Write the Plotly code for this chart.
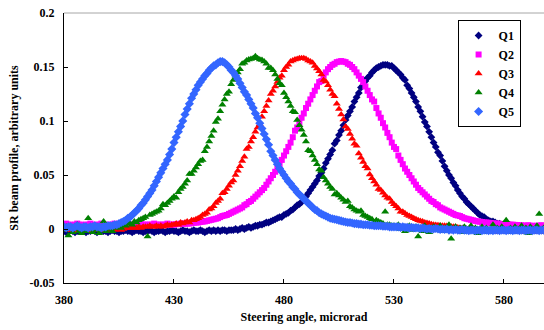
import plotly.graph_objects as go

# Steering angle samples (microrad)
angle = list(range(380, 599))

series_names = ["Q1", "Q2", "Q3", "Q4", "Q5"]

q1 = [
    -0.002, -0.003, -0.002, -0.001, -0.002, -0.003, -0.002, -0.002, -0.001, -0.002,
    -0.003, -0.002, -0.002, -0.001, -0.002, -0.003, -0.002, -0.001, -0.002, -0.002,
    -0.003, -0.002, -0.001, -0.002, -0.002, -0.003, -0.002, -0.002, -0.001, -0.002,
    -0.002, -0.003, -0.002, -0.001, -0.002, -0.002, -0.003, -0.002, -0.002, -0.001,
    -0.002, -0.003, -0.002, -0.002, -0.001, -0.002, -0.003, -0.002, -0.002, -0.001,
    -0.002, -0.002, -0.003, -0.002, -0.001, -0.002, -0.002, -0.003, -0.002, -0.001,
    -0.002, -0.002, -0.001, -0.002, -0.003, -0.002, -0.001, -0.002, -0.001, -0.002,
    -0.001, -0.002, -0.001, -0.001, -0.002, -0.001, -0.001, -0.001, 0.000, -0.001,
    0.000, 0.001, 0.000, 0.001, 0.002, 0.001, 0.002, 0.003, 0.003, 0.004,
    0.004, 0.005, 0.006, 0.006, 0.007, 0.008, 0.009, 0.010, 0.011, 0.011,
    0.013, 0.014, 0.015, 0.017, 0.018, 0.020, 0.022, 0.023, 0.025, 0.028,
    0.030, 0.033, 0.036, 0.039, 0.042, 0.045, 0.049, 0.052, 0.056, 0.061,
    0.065, 0.069, 0.073, 0.079, 0.082, 0.087, 0.091, 0.096, 0.101, 0.105,
    0.109, 0.113, 0.118, 0.122, 0.126, 0.131, 0.133, 0.137, 0.140, 0.142,
    0.145, 0.147, 0.149, 0.150, 0.151, 0.152, 0.152, 0.152, 0.151, 0.151,
    0.149, 0.147, 0.145, 0.143, 0.140, 0.138, 0.133, 0.130, 0.126, 0.122,
    0.118, 0.113, 0.109, 0.104, 0.099, 0.095, 0.090, 0.085, 0.080, 0.076,
    0.071, 0.068, 0.063, 0.058, 0.054, 0.050, 0.047, 0.043, 0.040, 0.036,
    0.033, 0.030, 0.028, 0.025, 0.023, 0.021, 0.019, 0.017, 0.015, 0.013,
    0.012, 0.011, 0.009, 0.008, 0.007, 0.007, 0.006, 0.005, 0.005, 0.004,
    0.004, 0.003, 0.003, 0.003, 0.002, 0.002, 0.002, 0.002, 0.001, 0.002,
    0.001, 0.001, 0.002, 0.001, 0.000, 0.001, 0.001, 0.000, 0.001,
]

q2 = [
    0.004, 0.005, 0.004, 0.004, 0.003, 0.004, 0.005, 0.004, 0.004, 0.003,
    0.004, 0.004, 0.005, 0.004, 0.003, 0.004, 0.004, 0.005, 0.004, 0.004,
    0.003, 0.004, 0.004, 0.005, 0.004, 0.004, 0.003, 0.004, 0.004, 0.005,
    0.004, 0.004, 0.004, 0.003, 0.004, 0.005, 0.004, 0.004, 0.004, 0.004,
    0.004, 0.005, 0.004, 0.004, 0.004, 0.004, 0.004, 0.005, 0.004, 0.004,
    0.004, 0.0045, 0.0045, 0.005, 0.0048, 0.005, 0.005, 0.005, 0.0055, 0.0058,
    0.006, 0.006, 0.0065, 0.0068, 0.007, 0.0075, 0.008, 0.0085, 0.009, 0.0095,
    0.010, 0.011, 0.012, 0.0125, 0.013, 0.014, 0.015, 0.016, 0.017, 0.018,
    0.019, 0.020, 0.022, 0.023, 0.025, 0.026, 0.028, 0.030, 0.032, 0.034,
    0.036, 0.038, 0.041, 0.044, 0.047, 0.050, 0.053, 0.056, 0.060, 0.064,
    0.068, 0.072, 0.076, 0.080, 0.085, 0.091, 0.094, 0.098, 0.103, 0.107,
    0.112, 0.116, 0.120, 0.124, 0.128, 0.132, 0.136, 0.137, 0.142, 0.145,
    0.148, 0.150, 0.152, 0.153, 0.1545, 0.155, 0.1555, 0.155, 0.1545, 0.153,
    0.152, 0.150, 0.148, 0.145, 0.142, 0.139, 0.136, 0.132, 0.128, 0.124,
    0.120, 0.118, 0.112, 0.107, 0.103, 0.098, 0.094, 0.089, 0.085, 0.080,
    0.076, 0.074, 0.068, 0.064, 0.060, 0.056, 0.053, 0.050, 0.047, 0.044,
    0.041, 0.038, 0.036, 0.034, 0.032, 0.030, 0.028, 0.026, 0.025, 0.023,
    0.022, 0.020, 0.019, 0.018, 0.017, 0.016, 0.015, 0.014, 0.013, 0.0125,
    0.012, 0.011, 0.010, 0.0095, 0.009, 0.0085, 0.008, 0.0075, 0.007, 0.0068,
    0.0065, 0.006, 0.006, 0.0058, 0.0055, 0.0052, 0.005, 0.005, 0.0048, 0.0046,
    0.0045, 0.0043, 0.0042, 0.004, 0.004, 0.0038, 0.0036, 0.0035, 0.0035, 0.003,
    0.003, 0.0035, 0.003, 0.003, 0.0025, 0.003, 0.003, 0.0035, 0.003,
]

q3 = [
    0.000, -0.001, 0.001, -0.001, 0.000, -0.002, 0.000, -0.001, 0.001, 0.000,
    -0.001, 0.000, -0.002, 0.000, -0.001, 0.001, -0.001, 0.000, -0.001, 0.000,
    0.001, -0.001, 0.000, -0.001, 0.000, 0.001, -0.001, 0.000, 0.001, 0.001,
    0.001, 0.002, 0.001, 0.001, 0.002, 0.001, 0.002, 0.002, 0.002, 0.003,
    0.002, 0.002, 0.003, 0.002, 0.003, 0.002, 0.003, 0.004, 0.003, 0.004,
    0.004, 0.005, 0.004, 0.006, 0.005, 0.006, 0.007, 0.006, 0.008, 0.008,
    0.009, 0.010, 0.011, 0.013, 0.014, 0.015, 0.018, 0.019, 0.021, 0.024,
    0.026, 0.028, 0.033, 0.034, 0.037, 0.040, 0.043, 0.045, 0.050, 0.054,
    0.058, 0.063, 0.067, 0.074, 0.076, 0.081, 0.085, 0.090, 0.094, 0.097,
    0.104, 0.109, 0.114, 0.119, 0.125, 0.128, 0.132, 0.136, 0.140, 0.142,
    0.147, 0.150, 0.152, 0.155, 0.156, 0.157, 0.1575, 0.158, 0.158, 0.158,
    0.1575, 0.156, 0.155, 0.154, 0.151, 0.1485, 0.146, 0.143, 0.138, 0.1365,
    0.133, 0.129, 0.125, 0.123, 0.116, 0.111, 0.106, 0.1015, 0.095, 0.0925,
    0.088, 0.0835, 0.079, 0.077, 0.070, 0.066, 0.062, 0.058, 0.056, 0.0505,
    0.047, 0.044, 0.041, 0.037, 0.036, 0.0335, 0.031, 0.029, 0.028, 0.025,
    0.023, 0.021, 0.019, 0.016, 0.016, 0.0145, 0.013, 0.012, 0.011, 0.010,
    0.009, 0.008, 0.0075, 0.007, 0.006, 0.0055, 0.005, 0.0045, 0.004, 0.0038,
    0.0035, 0.0033, 0.003, 0.003, 0.0028, 0.0025, 0.0022, 0.002, 0.002, 0.0015,
    0.001, 0.001, 0.0005, 0.000, 0.000, -0.001, 0.000, -0.001, -0.001, 0.000,
    -0.001, -0.002, -0.001, -0.002, -0.001, -0.002, -0.003, -0.002, -0.001, -0.002,
    -0.002, -0.003, -0.002, -0.001, -0.002, -0.003, -0.002, -0.002, -0.003, -0.001,
    -0.002, -0.003, -0.002, -0.002, -0.003, -0.002, -0.001, -0.002, -0.003,
]

q4 = [
    -0.001, 0.002, -0.006, 0.001, -0.003, 0.000, 0.004, -0.002, -0.004, 0.001,
    -0.002, 0.010, 0.000, -0.003, 0.002, -0.001, -0.004, 0.001, 0.007, -0.002,
    0.000, 0.001, -0.002, 0.001, 0.003, 0.002, 0.001, 0.004, 0.003, 0.005,
    0.005, 0.004, 0.007, 0.006, 0.008, 0.009, 0.010, 0.011, -0.007, 0.013,
    0.014, 0.015, 0.016, 0.017, 0.019, 0.023, 0.022, 0.024, 0.026, 0.028,
    0.030, 0.029, 0.034, 0.037, 0.039, 0.042, 0.045, 0.051, 0.051, 0.054,
    0.057, 0.060, 0.063, 0.064, 0.072, 0.076, 0.081, 0.086, 0.091, 0.099,
    0.102, 0.109, 0.115, 0.120, 0.125, 0.127, 0.134, 0.138, 0.142, 0.145,
    0.148, 0.153, 0.154, 0.156, 0.157, 0.1575, 0.158, 0.160, 0.158, 0.157,
    0.1565, 0.155, 0.153, 0.149, 0.149, 0.147, 0.143, 0.139, 0.135, 0.133,
    0.126, 0.122, 0.118, 0.114, 0.109, 0.108, 0.101, 0.096, 0.092, 0.087,
    0.081, 0.073, 0.072, 0.068, 0.064, 0.060, 0.055, 0.054, 0.048, 0.045,
    0.042, 0.039, 0.037, 0.032, 0.033, 0.031, 0.029, 0.027, 0.025, 0.026,
    0.021, 0.020, 0.018, 0.017, 0.016, 0.017, 0.013, 0.012, 0.011, 0.010,
    0.009, 0.006, 0.008, 0.007, 0.006, 0.005, 0.016, 0.004, 0.004, 0.003,
    0.003, 0.001, 0.004, 0.000, 0.002, -0.002, 0.001, 0.003, -0.001, 0.000,
    0.002, -0.007, 0.001, -0.002, 0.003, 0.000, -0.003, 0.001, 0.002, -0.001,
    0.000, 0.003, -0.002, 0.001, -0.001, 0.004, -0.009, 0.000, 0.002, -0.002,
    0.001, -0.003, 0.002, 0.000, -0.001, 0.003, -0.002, 0.001, -0.004, 0.000,
    0.002, -0.001, 0.001, -0.003, 0.000, 0.004, -0.002, 0.001, -0.001, 0.002,
    0.000, 0.008, -0.002, 0.001, -0.003, 0.002, 0.000, -0.001, 0.003, -0.002,
    0.001, -0.004, 0.002, 0.000, -0.002, 0.003, 0.014, -0.001, 0.001,
]

q5 = [
    0.002, 0.001, 0.002, 0.002, 0.001, 0.002, 0.003, 0.002, 0.001, 0.002,
    0.002, 0.001, 0.002, 0.002, 0.003, 0.002, 0.002, 0.001, 0.002, 0.002,
    0.003, 0.003, 0.003, 0.004, 0.004, 0.005, 0.006, 0.007, 0.008, 0.010,
    0.011, 0.013, 0.015, 0.017, 0.019, 0.022, 0.024, 0.027, 0.030, 0.033,
    0.036, 0.040, 0.044, 0.048, 0.052, 0.056, 0.060, 0.064, 0.069, 0.074,
    0.080, 0.085, 0.090, 0.095, 0.100, 0.106, 0.111, 0.116, 0.121, 0.125,
    0.129, 0.133, 0.136, 0.139, 0.142, 0.144, 0.147, 0.149, 0.151, 0.152,
    0.154, 0.155, 0.155, 0.154, 0.152, 0.150, 0.147, 0.145, 0.142, 0.139,
    0.135, 0.131, 0.127, 0.124, 0.120, 0.116, 0.112, 0.107, 0.103, 0.098,
    0.093, 0.088, 0.083, 0.078, 0.072, 0.068, 0.064, 0.060, 0.056, 0.053,
    0.050, 0.047, 0.044, 0.042, 0.039, 0.037, 0.034, 0.032, 0.030, 0.028,
    0.026, 0.024, 0.022, 0.020, 0.018, 0.017, 0.015, 0.014, 0.013, 0.012,
    0.011, 0.010, 0.0095, 0.009, 0.0085, 0.008, 0.0075, 0.007, 0.0065, 0.006,
    0.006, 0.0055, 0.005, 0.005, 0.0045, 0.0045, 0.004, 0.004, 0.004, 0.0035,
    0.0035, 0.003, 0.003, 0.003, 0.003, 0.0025, 0.0025, 0.0025, 0.002, 0.002,
    0.002, 0.002, 0.002, 0.0015, 0.002, 0.0015, 0.0015, 0.001, 0.0015, 0.001,
    0.001, 0.001, 0.0005, 0.001, 0.0005, 0.000, 0.0005, 0.000, 0.000, 0.0005,
    0.000, -0.0005, 0.000, -0.0005, 0.000, -0.001, -0.0005, -0.001, -0.0005, -0.001,
    -0.001, -0.0005, -0.001, -0.001, -0.0015, -0.001, -0.001, -0.0015, -0.001, -0.001,
    -0.0015, -0.001, -0.001, -0.0015, -0.001, -0.0015, -0.001, -0.001, -0.0015, -0.001,
    -0.001, -0.0015, -0.001, -0.001, -0.0015, -0.001, -0.001, -0.0015, -0.001, -0.001,
    -0.0015, -0.001, -0.001, -0.0015, -0.001, -0.001, -0.0015, -0.001, -0.001,
]

x_tick_vals = [380, 430, 480, 530, 580]
y_tick_vals = [-0.05, 0, 0.05, 0.1, 0.15, 0.2]
y_tick_text = ["-0.05", "0", "0.05", "0.1", "0.15", "0.2"]

colors = ["#000080", "#FF00FF", "#FF0000", "#008000", "#3366FF"]
symbols = ["diamond", "square", "triangle-up", "triangle-up", "diamond"]
sizes = [6, 6, 7, 7, 7]

FONT = "Liberation Serif, Times New Roman, serif"

fig = go.Figure()
for name, ys, c, s, sz in zip(series_names, [q1, q2, q3, q4, q5], colors, symbols, sizes):
    fig.add_trace(go.Scatter(
        x=angle, y=ys, mode="markers", name=name,
        marker=dict(color=c, symbol=s, size=sz, line=dict(width=0)),
    ))

fig.update_layout(
    width=544, height=330,
    margin=dict(l=64, r=0, t=13, b=47),
    paper_bgcolor="white", plot_bgcolor="white",
    font=dict(family=FONT, size=12, color="black", weight="bold"),
    showlegend=True,
    legend=dict(
        x=0.82, y=0.974, xanchor="left", yanchor="top",
        bgcolor="white", bordercolor="black", borderwidth=1,
        font=dict(family=FONT, size=12, color="black", weight="bold"),
        itemwidth=30, tracegroupgap=0,
    ),
    xaxis=dict(
        range=[380, 598.2], tickvals=x_tick_vals,
        ticks="inside", ticklen=4, tickcolor="black",
        showline=True, linecolor="black", linewidth=1,
        showgrid=False, zeroline=False,
        tickfont=dict(family=FONT, size=12, color="black", weight="bold"),
        ticklabelstandoff=6,
        title=dict(text="Steering angle, microrad", standoff=6,
                   font=dict(family=FONT, size=12, color="black", weight="bold")),
    ),
    yaxis=dict(
        range=[-0.05, 0.2], tickvals=y_tick_vals, ticktext=y_tick_text,
        ticks="inside", ticklen=4, tickcolor="black",
        showline=True, linecolor="black", linewidth=1,
        showgrid=False, zeroline=False,
        tickfont=dict(family=FONT, size=12, color="black", weight="bold"),
        ticklabelstandoff=6,
        title=dict(text="SR beam profile, arbitrary units", standoff=8,
                   font=dict(family=FONT, size=12, color="black", weight="bold")),
    ),
    shapes=[dict(type="line", xref="paper", yref="paper", x0=0, x1=1, y0=1, y1=1,
                 line=dict(color="#A6A6A6", width=1))],
)

fig.write_html(
    "out.html",
    config={"displayModeBar": False},
    post_script="document.body.style.margin='0';document.body.style.padding='0';document.body.style.overflow='hidden';",
)
